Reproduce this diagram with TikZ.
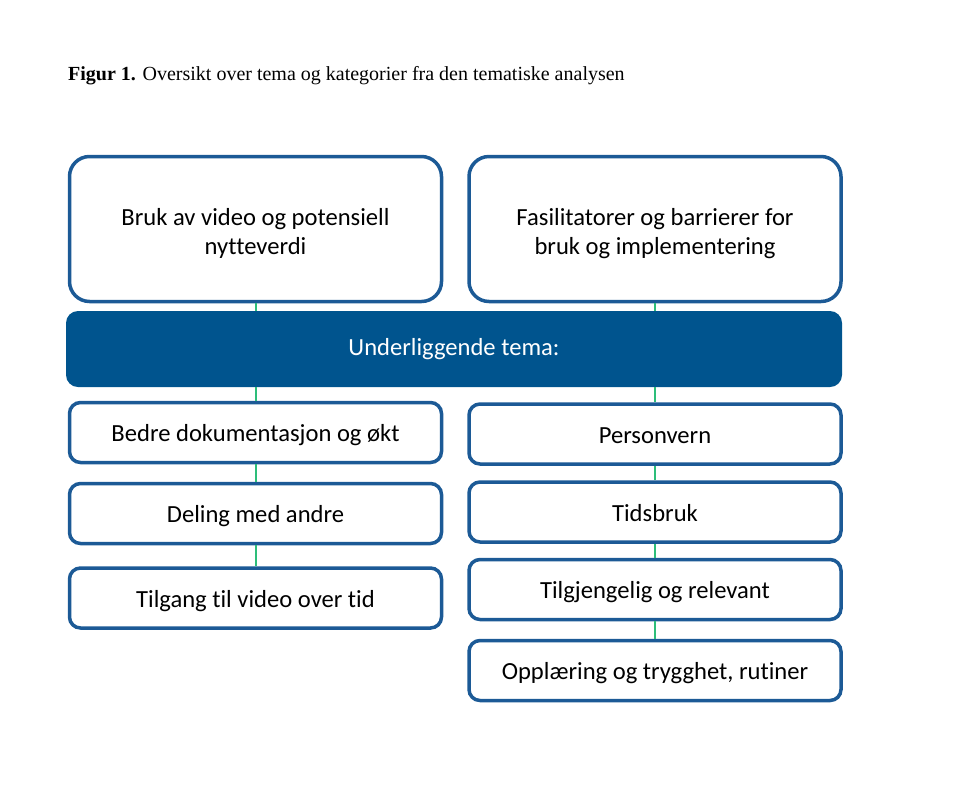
\documentclass[tikz,border=0pt]{standalone}
\usepackage{fontspec}
\setmainfont{Carlito}[Ligatures={NoCommon}]
\newfontfamily\titlefont{Liberation Serif}
\definecolor{navy}{HTML}{1C5A96}
\definecolor{barblue}{HTML}{00548E}
\definecolor{linkgreen}{HTML}{2DBE7A}
\newcommand\topstrut{\rule{0pt}{26pt}}
\begin{document}
\begin{tikzpicture}[x=1pt,y=-1pt,
  bigbox/.style={draw=navy,line width=3.5pt,rounded corners=20pt,fill=white,
    minimum width=372pt,minimum height=145pt,align=center,font=\fontsize{24.6}{29}\selectfont,inner sep=0pt},
  catbox/.style={draw=navy,line width=3.5pt,rounded corners=11pt,fill=white,
    minimum width=372pt,minimum height=60pt,align=center,font=\fontsize{24.6}{30}\selectfont,inner sep=0pt,
    text height=22pt,text depth=4pt},
  barbox/.style={fill=barblue,rounded corners=12pt,minimum width=776pt,minimum height=76pt,
    text=white,font=\fontsize{24.6}{30}\selectfont,inner sep=0pt},
  link/.style={draw=linkgreen,line width=2pt}]
\useasboundingbox (0,0) rectangle (960,788);
\node[anchor=base west,inner sep=0pt,font=\titlefont\fontsize{20}{24}\selectfont] (title) at (68,80)
  {\textbf{Figur 1.} Oversikt over tema og kategorier fra den tematiske analysen};
\node[bigbox] (tl) at (255.5,229) {\topstrut Bruk av video og potensiell\\nytteverdi};
\node[bigbox] (tr) at (655,229) {\topstrut Fasilitatorer og barrierer for\\bruk og implementering};
\node[barbox] (bar) at (454,349) {Underliggende tema:};
\node[catbox] (l1) at (255.5,432.5) {Bedre dokumentasjon og økt};
\node[catbox] (l2) at (255.5,513.5) {Deling med andre};
\node[catbox] (l3) at (255.5,598) {Tilgang til video over tid};
\node[catbox] (r1) at (655,434) {Personvern};
\node[catbox] (r2) at (655,512) {Tidsbruk};
\node[catbox] (r3) at (655,589.5) {Tilgjengelig og relevant};
\node[catbox] (r4) at (655,670.5) {Opplæring og trygghet, rutiner};
\draw[link] (tl.south) -- (tl.south |- bar.north);
\draw[link] (tl.south |- bar.south) -- (l1.north);
\draw[link] (l1.south) -- (l2.north);
\draw[link] (l2.south) -- (l3.north);
\draw[link] (tr.south) -- (tr.south |- bar.north);
\draw[link] (tr.south |- bar.south) -- (r1.north);
\draw[link] (r1.south) -- (r2.north);
\draw[link] (r2.south) -- (r3.north);
\draw[link] (r3.south) -- (r4.north);
\end{tikzpicture}
\end{document}
